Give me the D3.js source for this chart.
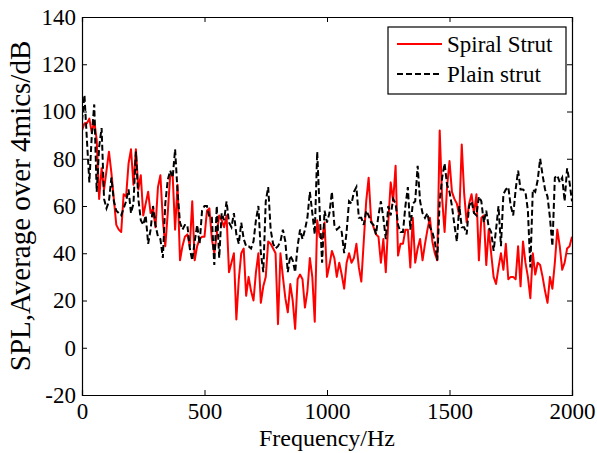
<!DOCTYPE html>
<html>
<head>
<meta charset="utf-8">
<script src="https://cdn.jsdelivr.net/npm/d3@7"></script>
<style>
  body { margin: 0; background: #fff; }
  text { font-family: "Liberation Serif", "Times New Roman", serif; }
</style>
</head>
<body>
<svg id="chart"></svg>
<script>
// frequency grid step (Hz)
const freqStep = 10;
const freqs = d3.range(0, 2001, freqStep);

// SPL averaged over 4 mics, dB
const spiralStrut = [
  92, 95, 95, 97, 91, 96, 88, 63, 76, 67, 75, 83, 74, 63, 52, 50, 49, 65, 64, 78,
  84, 69, 84, 67, 73, 56, 61, 66, 57, 59, 51, 68, 73, 54, 43, 57, 73, 73, 50, 69, 37,
  43, 47, 48, 43, 62, 37, 43, 46, 47, 47, 58, 59, 46, 40, 48, 56, 54, 51, 56, 32,
  36, 40, 12, 29, 40, 42, 22, 30, 24, 20, 32, 40, 19, 26, 30, 45, 44, 42, 40, 10,
  40, 30, 21, 15, 27, 20, 8, 29, 31, 29, 17, 24, 38, 30, 11, 54, 47, 46, 53, 30,
  35, 41, 38, 30, 36, 31, 25, 36, 40, 36, 38, 44, 34, 28, 45, 62, 72, 54, 51, 48,
  47, 36, 46, 32, 53, 70, 62, 77, 39, 44, 44, 50, 50, 34, 55, 36, 42, 46, 37, 44,
  50, 55, 45, 40, 37, 92, 63, 49, 68, 79, 66, 63, 61, 56, 86, 65, 53, 61, 65, 57,
  65, 37, 55, 56, 35, 50, 40, 30, 27, 34, 40, 33, 44, 29, 30, 30, 29, 43, 26, 45,
  36, 30, 21, 40, 31, 36, 35, 30, 24, 19, 30, 25, 36, 50, 43, 33, 36, 42, 43, 47
];

const plainStrut = [
  96, 107, 88, 70, 90, 103, 66, 85, 93, 63, 59, 62, 72, 62, 58, 57, 56, 59, 62, 67,
  57, 61, 83, 63, 54, 52, 56, 44, 50, 60, 52, 47, 46, 38, 61, 71, 75, 72, 84, 66, 53,
  50, 52, 52, 42, 37, 45, 52, 44, 58, 60, 60, 55, 55, 35, 60, 38, 57, 54, 62, 53,
  51, 57, 48, 44, 53, 46, 43, 43, 42, 45, 54, 60, 40, 32, 62, 68, 50, 44, 42, 43,
  45, 50, 45, 32, 39, 37, 32, 43, 50, 46, 50, 55, 66, 57, 48, 83, 58, 36, 58, 53,
  57, 66, 52, 50, 51, 49, 40, 49, 62, 61, 66, 68, 55, 55, 52, 58, 56, 53, 52, 48,
  56, 62, 55, 46, 60, 56, 63, 61, 52, 49, 49, 60, 68, 50, 61, 62, 77, 62, 57, 55,
  57, 51, 49, 45, 37, 62, 72, 78, 69, 66, 60, 52, 45, 60, 51, 51, 48, 60, 62, 57,
  56, 64, 62, 53, 58, 51, 49, 41, 50, 60, 43, 65, 67, 68, 60, 56, 67, 75, 67, 67,
  66, 58, 34, 67, 66, 71, 80, 73, 67, 64, 55, 43, 72, 73, 70, 72, 62, 76, 70, 62
];

const xTicks = [0, 500, 1000, 1500, 2000];
const yTicks = [-20, 0, 20, 40, 60, 80, 100, 120, 140];
const seriesNames = ["Spiral Strut", "Plain strut"];

const width = 597, height = 453;
const margin = { top: 17, right: 25, bottom: 58, left: 82 };
const innerW = width - margin.left - margin.right;
const innerH = height - margin.top - margin.bottom;
const serif = "Liberation Serif, Times New Roman, serif";

const svg = d3.select("#chart")
  .attr("width", width)
  .attr("height", height);

const x = d3.scaleLinear().domain([0, 2000]).range([0, innerW]);
const y = d3.scaleLinear().domain([-20, 140]).range([innerH, 0]);

const g = svg.append("g")
  .attr("transform", `translate(${margin.left},${margin.top})`);

g.append("clipPath").attr("id", "clip")
  .append("rect").attr("width", innerW).attr("height", innerH);

const line = d3.line()
  .x((d, i) => x(freqs[i]))
  .y(d => y(d));

const plot = g.append("g").attr("clip-path", "url(#clip)");

plot.append("path")
  .datum(spiralStrut)
  .attr("d", line)
  .attr("fill", "none")
  .attr("stroke", "#ff0000")
  .attr("stroke-width", 2)
  .attr("stroke-linejoin", "round");

plot.append("path")
  .datum(plainStrut)
  .attr("d", line)
  .attr("fill", "none")
  .attr("stroke", "#000")
  .attr("stroke-width", 2)
  .attr("stroke-dasharray", "6,3");

// axes, ticks pointing inward on all four sides
const tickLen = 5;
const fontSize = 23;
const fmt = d => String(d);

const xAxis = g.append("g")
  .attr("transform", `translate(0,${innerH})`)
  .call(d3.axisBottom(x).tickValues(xTicks).tickSize(-tickLen).tickPadding(8).tickFormat(fmt));
const yAxis = g.append("g")
  .call(d3.axisLeft(y).tickValues(yTicks).tickSize(-tickLen).tickPadding(6).tickFormat(fmt));
g.append("g")
  .call(d3.axisTop(x).tickValues(xTicks).tickSize(-tickLen).tickFormat(""));
g.append("g")
  .attr("transform", `translate(${innerW},0)`)
  .call(d3.axisRight(y).tickValues(yTicks).tickSize(-tickLen).tickFormat(""));

[xAxis, yAxis].forEach(a => a
  .attr("font-family", serif)
  .attr("font-size", fontSize));

g.selectAll(".domain").attr("stroke", "#000").attr("stroke-width", 1.2);
g.selectAll(".tick line").attr("stroke", "#000");
g.selectAll(".tick text")
  .attr("fill", "#000")
  .attr("font-family", serif)
  .attr("font-size", fontSize);
xAxis.selectAll(".tick text").attr("dy", "0.71em");

// axis labels
svg.append("text")
  .attr("x", margin.left + innerW / 2)
  .attr("y", 446)
  .attr("text-anchor", "middle")
  .attr("font-family", serif)
  .attr("font-size", 24)
  .text("Frequency/Hz");

svg.append("text")
  .attr("transform", `translate(30,${margin.top + innerH / 2}) rotate(-90)`)
  .attr("text-anchor", "middle")
  .attr("font-family", serif)
  .attr("font-size", 29)
  .text("SPL,Average over 4mics/dB");

// legend
const legend = svg.append("g").attr("transform", "translate(388,27)");
legend.append("rect")
  .attr("width", 178).attr("height", 67)
  .attr("fill", "#fff").attr("stroke", "#000").attr("stroke-width", 1.2);

const legendStyles = [
  { stroke: "#ff0000", dash: null },
  { stroke: "#000", dash: "6,3" }
];
seriesNames.forEach((name, i) => {
  const row = legend.append("g").attr("transform", `translate(0,${17 + i * 30})`);
  row.append("line")
    .attr("x1", 9).attr("x2", 54)
    .attr("stroke", legendStyles[i].stroke)
    .attr("stroke-width", 2)
    .attr("stroke-dasharray", legendStyles[i].dash);
  row.append("text")
    .attr("x", 59).attr("y", 8)
    .attr("font-family", serif)
    .attr("font-size", 23)
    .text(name);
});
</script>
</body>
</html>
